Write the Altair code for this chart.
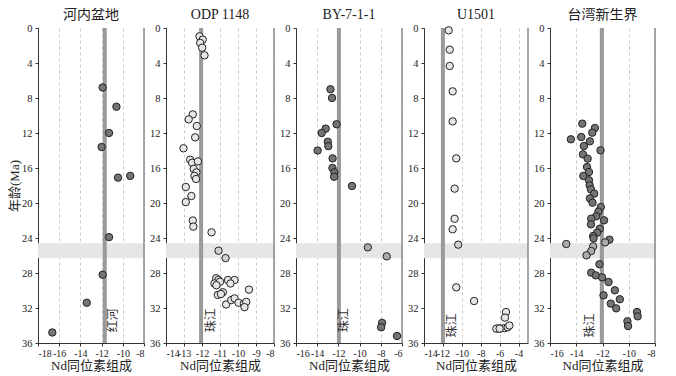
import altair as alt
import pandas as pd

# ---------------- data ----------------
titles = ["河内盆地", "ODP 1148", "BY-7-1-1", "U1501", "台湾新生界"]

hanoi_nd = [-11.9, -10.6, -11.3, -12.0, -9.3, -10.45, -11.3, -11.9, -13.4, -16.65]
hanoi_age = [6.8, 9.0, 12.0, 13.6, 16.9, 17.1, 23.9, 28.2, 31.4, 34.8]
hanoi_kind = ["d"] * 10

odp_nd = [-12.14, -11.96, -12.10, -11.99, -11.86, -12.51, -12.74, -12.29, -12.38, -13.03,
          -12.66, -12.55, -12.23, -12.46, -12.31, -12.42, -12.33, -12.9, -12.59, -12.9,
          -12.51, -12.48, -11.47, -11.08, -10.69,
          -11.21, -11.09, -11.31, -10.56, -10.19, -10.42, -10.84, -11.12, -9.39, -10.66,
          -10.38, -10.19, -9.97, -9.67, -9.54, -9.64, -11.0, -11.2, -10.95]
odp_age = [0.95, 1.33, 1.71, 2.25, 3.12, 9.87, 10.44, 11.2, 12.5, 13.75,
           15.05, 15.4, 15.24, 16.1, 16.5, 16.9, 17.26, 18.17, 19.2, 19.9,
           22.0, 22.7, 23.35, 25.45, 26.3,
           28.6, 28.8, 29.2, 28.8, 28.8, 29.2, 30.2, 30.5, 29.9, 31.6,
           31.1, 30.9, 31.4, 31.5, 31.3, 31.9, 29.0, 29.4, 30.4]
odp_kind = ["w"] * 23 + ["wl", "wl"] + ["w"] * 19

by_nd = [-12.75, -12.6, -12.17, -13.2, -13.58, -13.0, -12.95, -13.96, -12.55, -12.56,
         -12.38, -12.4, -10.72, -9.22, -7.44, -7.88, -7.97, -6.47]
by_age = [7.0, 8.0, 11.0, 11.5, 12.0, 13.0, 13.5, 14.0, 14.9, 16.0,
          16.5, 17.0, 18.06, 25.07, 26.1, 33.7, 34.2, 35.2]
by_kind = ["d"] * 13 + ["l", "l"] + ["d"] * 3

u_nd = [-11.39, -11.28, -11.28, -10.97, -10.97, -10.59, -10.76, -10.76, -10.97, -10.38,
        -10.59, -8.7, -5.33, -5.43, -6.19, -5.91, -5.49, -5.15, -4.97, -6.35, -6.0]
u_age = [0.27, 2.48, 4.34, 7.24, 10.67, 14.9, 18.36, 21.8, 23.0, 24.76,
         29.64, 31.2, 32.46, 33.1, 34.35, 34.35, 34.3, 34.2, 34.0, 34.36, 34.36]
u_kind = ["w"] * 9 + ["wl"] + ["w"] * 11

tw_nd = [-13.54, -12.58, -12.78, -14.41, -13.62, -12.96, -13.42, -12.15, -13.49, -13.13,
         -13.18, -13.03, -13.46, -13.03, -12.98, -12.88, -12.63, -12.96, -12.76, -12.13,
         -12.31, -12.48, -12.86, -11.88, -12.88, -12.2, -12.41, -12.71, -12.68, -11.47,
         -11.8, -14.76, -12.71, -12.86, -13.22, -12.23, -12.86, -12.51, -12.03, -11.54,
         -11.06, -10.68, -11.92, -11.37, -10.96, -9.37, -9.32, -10.1, -10.05]
tw_age = [10.93, 11.43, 11.96, 12.72, 12.46, 12.95, 13.49, 13.98, 14.44, 14.93,
          15.89, 16.46, 16.91, 17.4, 17.98, 18.44, 18.93, 19.47, 19.96, 20.46,
          20.99, 21.52, 21.79, 21.98, 22.44, 22.93, 23.39, 23.77, 24.04, 24.19,
          24.5, 24.69, 24.95, 25.49, 25.98, 27.0, 27.96, 28.27, 28.5, 29.03,
          29.98, 31.0, 30.55, 31.5, 32.04, 32.46, 32.95, 33.52, 34.06]
tw_kind = ["d"] * 30 + ["l", "l", "l", "l", "l"] + ["d"] * 14

x_domains = [[-18, -8], [-14, -8], [-16, -6], [-14, -3], [-16, -8]]
x_ticks = [[-18, -16, -14, -12, -10, -8],
           [-14, -13, -12, -11, -10, -9, -8],
           [-16, -14, -12, -10, -8, -6],
           [-14, -12, -10, -8, -6, -4],
           [-16, -14, -12, -10, -8]]
river_x = [-11.7, -12.05, -11.95, -12.0, -12.05]
river_names = ["红河", "珠江", "珠江", "珠江", "珠江"]
river_label_x = [-10.9, -11.5, -11.5, -11.07, -12.95]
river_label_age = [33.4, 33.4, 33.4, 34.0, 34.0]
band_age = [24.6, 26.3]
y_ticks = [0, 4, 8, 12, 16, 20, 24, 28, 32, 36]
widths = [106, 108, 106, 104, 105]

series = [(hanoi_nd, hanoi_age, hanoi_kind), (odp_nd, odp_age, odp_kind),
          (by_nd, by_age, by_kind), (u_nd, u_age, u_kind), (tw_nd, tw_age, tw_kind)]

FONT = "Liberation Serif, Noto Sans CJK SC"
kind_colors = alt.Scale(domain=["d", "l", "w", "wl"],
                        range=["#747474", "#ababab", "#e6e6e6", "#cfcfcf"])


def panel(i):
    xs, ys, ks = series[i]
    df = pd.DataFrame({"nd": xs, "age": ys, "kind": ks})
    dom = x_domains[i]
    xscale = alt.Scale(domain=dom, nice=False, zero=False)
    yscale = alt.Scale(domain=[0, 36], reverse=True, nice=False, zero=False)
    xaxis = alt.Axis(values=x_ticks[i], tickCount=30, title="Nd同位素组成", grid=True,
                     gridDash=[3, 3], gridColor="#bbbbbb", gridWidth=0.8,
                     labelExpr="'' + datum.value",
                     labelFont=FONT, labelFontSize=10, titleFont=FONT,
                     titleFontSize=13, titleFontWeight="normal", titlePadding=1,
                     labelPadding=2, labelOverlap=False,
                     domainColor="#333333", tickColor="#333333", tickSize=3,
                     labelColor="#222222", titleColor="#222222")
    yaxis = alt.Axis(values=y_ticks, tickCount=30, title="年龄(Ma)" if i == 0 else None,
                     grid=False, labelFont=FONT, labelFontSize=10.5, titleFont=FONT,
                     titleFontSize=13, titleFontWeight="normal", labelOverlap=False,
                     labelPadding=3,
                     domainColor="#333333", tickColor="#333333", tickSize=3,
                     labelColor="#222222", titleColor="#222222", titlePadding=0)

    band_df = pd.DataFrame({"x1": [dom[0]], "x2": [dom[1]],
                            "y1": [band_age[0]], "y2": [band_age[1]]})
    band = alt.Chart(band_df).mark_rect(color="#e6e6e6").encode(
        x=alt.X("x1:Q", scale=xscale, axis=xaxis),
        x2="x2:Q",
        y=alt.Y("y1:Q", scale=yscale, axis=yaxis),
        y2="y2:Q")

    line_df = pd.DataFrame({"x": [river_x[i]]})
    line = alt.Chart(line_df).mark_rule(color="#9a9a9a", strokeWidth=4).encode(
        x=alt.X("x:Q", scale=xscale))

    border_df = pd.DataFrame({"x": [dom[1]]})
    border = alt.Chart(border_df).mark_rule(color="#8a8a8a", strokeWidth=1.5).encode(
        x=alt.X("x:Q", scale=xscale))

    pts = alt.Chart(df).mark_point(shape="circle", filled=True, size=55,
                                   stroke="#222222", strokeWidth=1, opacity=1).encode(
        x=alt.X("nd:Q", scale=xscale),
        y=alt.Y("age:Q", scale=yscale),
        fill=alt.Fill("kind:N", scale=kind_colors, legend=None))

    lab_df = pd.DataFrame({"x": [river_label_x[i]], "y": [river_label_age[i]],
                           "t": [river_names[i]]})
    lab = alt.Chart(lab_df).mark_text(angle=270, font="Noto Sans CJK SC", fontSize=12,
                                      color="#333333", align="center",
                                      baseline="middle").encode(
        x=alt.X("x:Q", scale=xscale), y=alt.Y("y:Q", scale=yscale), text="t:N")

    return alt.layer(band, line, border, pts, lab).properties(
        width=widths[i], height=315,
        title=alt.TitleParams(titles[i], font=FONT, fontSize=14,
                              fontWeight="normal", color="#222222", offset=1))


chart = alt.hconcat(*[panel(i) for i in range(5)], spacing=22, bounds="flush").resolve_scale(
    x="independent", y="independent").configure_view(stroke=None).properties(
    padding={"left": 0, "top": 0, "right": 0, "bottom": 0})

chart.save("out.html", embed_options={"renderer": "svg", "actions": False})
